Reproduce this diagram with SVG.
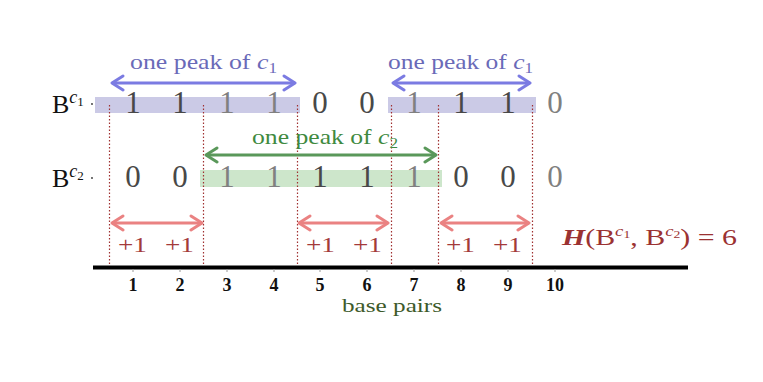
<svg xmlns="http://www.w3.org/2000/svg" width="763" height="382" viewBox="0 0 763 382">
<style>
  text { font-family: "Liberation Serif", "DejaVu Serif", serif; }
  .dig { font-size: 31px; text-anchor: middle; }
  .dk { fill: #484848; }
  .lt { fill: #808080; }
  .lbl { font-size: 26px; fill: #111; }
  .sup { font-size: 18px; font-style: italic; }
  .sub { font-size: 13px; font-style: normal; }
  .dot { stroke: #a03030; stroke-width: 1.2; stroke-dasharray: 1.5 2; fill: none; }
  .pk1 { stroke: #7b7be2; stroke-width: 3; fill: none; marker-start: url(#hb); marker-end: url(#hb); }
  .pk2 { stroke: #5a985a; stroke-width: 3; fill: none; marker-start: url(#hg); marker-end: url(#hg); }
  .pr { stroke: #ea8282; stroke-width: 3; fill: none; marker-start: url(#hr); marker-end: url(#hr); }
  .t1 { font-size: 21px; fill: #6a6ab8; }
  .t2 { font-size: 21px; fill: #3f8a3f; }
  .plus { font-size: 22px; fill: #a33a3a; }
  .num { font-size: 18px; font-weight: bold; fill: #111; text-anchor: middle; }
  .tick { stroke: #999; stroke-width: 1; }
</style>
<defs>
  <marker id="hb" viewBox="0 0 16 18" refX="14" refY="9" markerWidth="16" markerHeight="18" markerUnits="userSpaceOnUse" orient="auto-start-reverse">
    <path d="M3,2 L14,9 L3,16" fill="none" stroke="#7b7be2" stroke-width="3" stroke-linecap="round" stroke-linejoin="round"/>
  </marker>
  <marker id="hg" viewBox="0 0 16 18" refX="14" refY="9" markerWidth="16" markerHeight="18" markerUnits="userSpaceOnUse" orient="auto-start-reverse">
    <path d="M3,2 L14,9 L3,16" fill="none" stroke="#5a985a" stroke-width="3" stroke-linecap="round" stroke-linejoin="round"/>
  </marker>
  <marker id="hr" viewBox="0 0 16 18" refX="14" refY="9" markerWidth="16" markerHeight="18" markerUnits="userSpaceOnUse" orient="auto-start-reverse">
    <path d="M3,2 L14,9 L3,16" fill="none" stroke="#ea8282" stroke-width="3" stroke-linecap="round" stroke-linejoin="round"/>
  </marker>
</defs>
<rect width="763" height="382" fill="#fff"/>

<!-- highlight bands -->
<g id="bands">
  <rect x="95" y="97" width="205" height="16" fill="#cbcae6"/>
  <rect x="388" y="97" width="148" height="16" fill="#cbcae6"/>
  <rect x="200" y="170" width="242" height="17" fill="#cde6cb"/>
</g>

<!-- row labels -->
<g id="label-bc1">
  <text class="lbl" x="52" y="113">B<tspan class="sup" dy="-10">c<tspan class="sub" dy="3">1</tspan></tspan></text>
  <circle cx="92" cy="104" r="0.9" fill="#333"/>
</g>
<g id="label-bc2">
  <text class="lbl" x="52" y="187">B<tspan class="sup" dy="-10">c<tspan class="sub" dy="3">2</tspan></tspan></text>
  <circle cx="92" cy="178" r="0.9" fill="#333"/>
</g>

<!-- row 1 digits -->
<g id="row-bc1">
  <text class="dig dk" x="133" y="113">1</text>
  <text class="dig dk" x="180" y="113">1</text>
  <text class="dig lt" x="227" y="113">1</text>
  <text class="dig lt" x="274" y="113">1</text>
  <text class="dig dk" x="320" y="113">0</text>
  <text class="dig dk" x="367" y="113">0</text>
  <text class="dig lt" x="414" y="113">1</text>
  <text class="dig dk" x="461" y="113">1</text>
  <text class="dig dk" x="508" y="113">1</text>
  <text class="dig lt" x="555" y="113">0</text>
</g>

<!-- row 2 digits -->
<g id="row-bc2">
  <text class="dig dk" x="133" y="187">0</text>
  <text class="dig dk" x="180" y="187">0</text>
  <text class="dig lt" x="227" y="187">1</text>
  <text class="dig lt" x="274" y="187">1</text>
  <text class="dig dk" x="320" y="187">1</text>
  <text class="dig dk" x="367" y="187">1</text>
  <text class="dig lt" x="414" y="187">1</text>
  <text class="dig dk" x="461" y="187">0</text>
  <text class="dig dk" x="508" y="187">0</text>
  <text class="dig lt" x="555" y="187">0</text>
</g>

<!-- dotted boundaries -->
<g id="boundaries">
  <line class="dot" x1="109.5" y1="105" x2="109.5" y2="265"/>
  <line class="dot" x1="203.5" y1="105" x2="203.5" y2="265"/>
  <line class="dot" x1="297.5" y1="105" x2="297.5" y2="265"/>
  <line class="dot" x1="391.5" y1="105" x2="391.5" y2="265"/>
  <line class="dot" x1="438.5" y1="105" x2="438.5" y2="265"/>
  <line class="dot" x1="532.5" y1="105" x2="532.5" y2="265"/>
</g>

<!-- connectors -->
<g id="connectors">
  <line class="pk1" x1="112" y1="83" x2="295" y2="83"/>
  <line class="pk1" x1="393" y1="83" x2="530" y2="83"/>
  <line class="pk2" x1="206" y1="155" x2="436" y2="155"/>
  <line class="pr" x1="112" y1="223" x2="202" y2="223"/>
  <line class="pr" x1="299" y1="223" x2="388" y2="223"/>
  <line class="pr" x1="441" y1="223" x2="529" y2="223"/>
</g>

<g id="peak-labels">
  <text class="t1" x="130" y="69" textLength="147" lengthAdjust="spacingAndGlyphs">one peak of <tspan font-style="italic">c</tspan><tspan font-size="14" dy="4">1</tspan></text>
  <text class="t1" x="388" y="69" textLength="145" lengthAdjust="spacingAndGlyphs">one peak of <tspan font-style="italic">c</tspan><tspan font-size="14" dy="4">1</tspan></text>
  <text class="t2" x="252" y="144" textLength="146" lengthAdjust="spacingAndGlyphs">one peak of <tspan font-style="italic">c</tspan><tspan font-size="14" dy="4">2</tspan></text>
</g>

<g id="plus-labels">
  <text class="plus" x="118" y="252" textLength="29" lengthAdjust="spacingAndGlyphs">+1</text>
  <text class="plus" x="165" y="252" textLength="29" lengthAdjust="spacingAndGlyphs">+1</text>
  <text class="plus" x="306" y="252" textLength="29" lengthAdjust="spacingAndGlyphs">+1</text>
  <text class="plus" x="353" y="252" textLength="29" lengthAdjust="spacingAndGlyphs">+1</text>
  <text class="plus" x="446" y="252" textLength="29" lengthAdjust="spacingAndGlyphs">+1</text>
  <text class="plus" x="493" y="252" textLength="29" lengthAdjust="spacingAndGlyphs">+1</text>
</g>

<g id="hamming">
  <text x="562" y="245" font-size="24" fill="#9b3232" textLength="175" lengthAdjust="spacingAndGlyphs"><tspan font-style="italic" font-weight="bold">H</tspan>(B<tspan font-size="15" font-style="italic" dy="-9">c</tspan><tspan font-size="11" dy="2">1</tspan><tspan dy="7">, B</tspan><tspan font-size="15" font-style="italic" dy="-9">c</tspan><tspan font-size="11" dy="2">2</tspan><tspan dy="7">) = 6</tspan></text>
</g>

<!-- axis -->
<g id="axis">
  <line x1="93" y1="267.5" x2="688" y2="267.5" stroke="#000" stroke-width="4"/>
  <line class="tick" x1="133" y1="269" x2="133" y2="272"/>
  <line class="tick" x1="180" y1="269" x2="180" y2="272"/>
  <line class="tick" x1="227" y1="269" x2="227" y2="272"/>
  <line class="tick" x1="274" y1="269" x2="274" y2="272"/>
  <line class="tick" x1="320" y1="269" x2="320" y2="272"/>
  <line class="tick" x1="367" y1="269" x2="367" y2="272"/>
  <line class="tick" x1="414" y1="269" x2="414" y2="272"/>
  <line class="tick" x1="461" y1="269" x2="461" y2="272"/>
  <line class="tick" x1="508" y1="269" x2="508" y2="272"/>
  <line class="tick" x1="555" y1="269" x2="555" y2="272"/>
  <text class="num" x="133" y="291">1</text>
  <text class="num" x="180" y="291">2</text>
  <text class="num" x="227" y="291">3</text>
  <text class="num" x="274" y="291">4</text>
  <text class="num" x="320" y="291">5</text>
  <text class="num" x="367" y="291">6</text>
  <text class="num" x="414" y="291">7</text>
  <text class="num" x="461" y="291">8</text>
  <text class="num" x="508" y="291">9</text>
  <text class="num" x="555" y="291">10</text>
  <text x="342" y="312" font-size="19" fill="#3d5a2a" textLength="100" lengthAdjust="spacingAndGlyphs">base pairs</text>
</g>
</svg>
